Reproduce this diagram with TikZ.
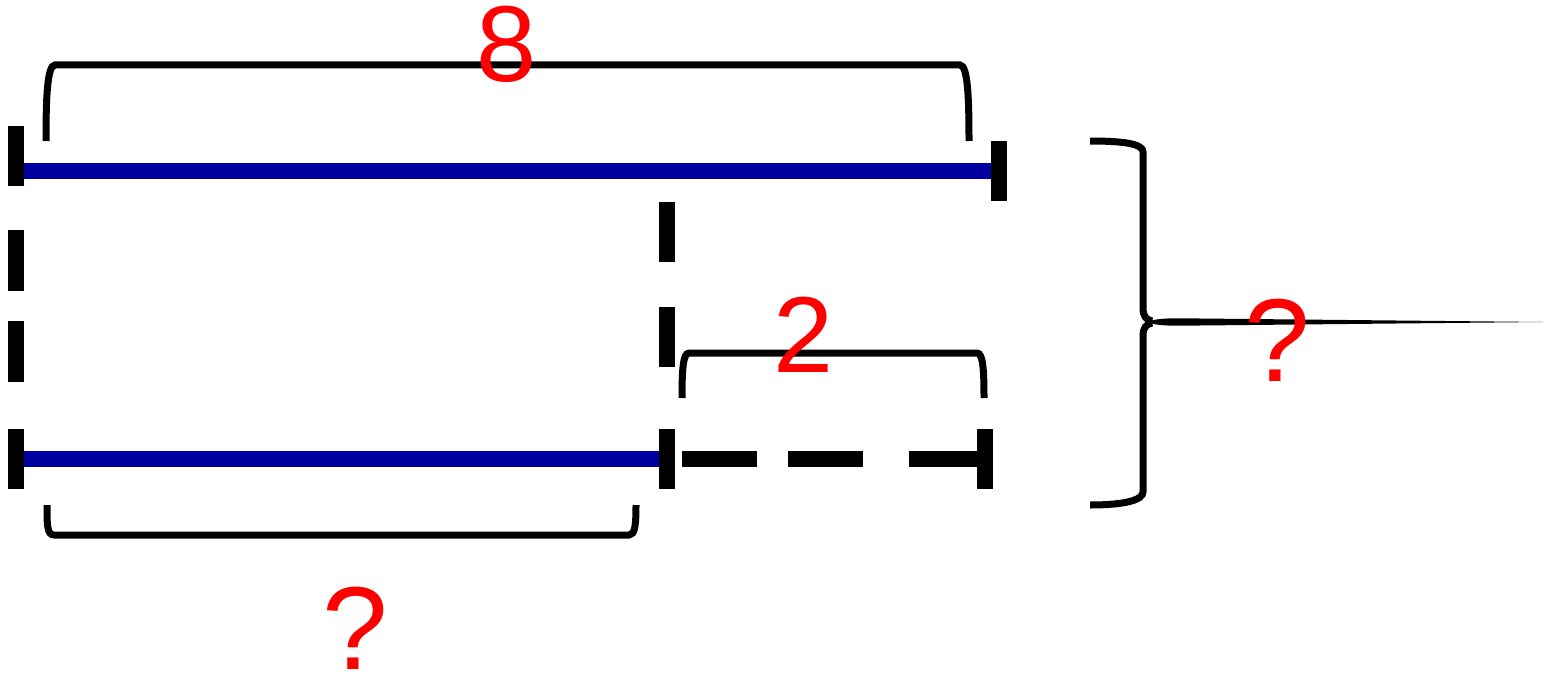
\documentclass[tikz,border=0pt]{standalone}
\usepackage{fontspec}
\setmainfont{Liberation Sans}
\definecolor{segblue}{RGB}{0,0,160}
\tikzset{
  seg/.style={segblue, line width=16pt},
  tickmark/.style={fill=black, minimum width=16pt, minimum height=60pt, inner sep=0pt},
  guide/.style={black, line width=16pt},
  brace/.style={black, line width=7pt},
  numlbl/.style={red, inner sep=0pt, font=\fontsize{108}{108}\selectfont},
  qlbl/.style={red, inner sep=0pt, font=\fontsize{118}{118}\selectfont}
}

\begin{document}
\begin{tikzpicture}[x=1pt, y=-1pt]
\useasboundingbox (0,0) rectangle (1556,677);

% end points of the two bars
\coordinate (topL) at (16,171);
\coordinate (topR) at (999,171);
\coordinate (botL) at (16,459);
\coordinate (botM) at (667,459);
\coordinate (botR) at (985,459);

% blue bars
\draw[seg] (topL) -- (topR);
\draw[seg] (botL) -- (botM);

% ticks
\node[tickmark] (tickTL) at (16,156) {};
\node[tickmark] (tickTR) at (topR) {};
\node[tickmark] (tickBL) at (botL) {};
\node[tickmark] (tickBM) at (botM) {};
\node[tickmark] (tickBR) at (botR) {};

% dashed guides
\draw[guide, dash pattern=on 61pt off 30pt] (16,230) -- (16,382);
\draw[guide, dash pattern=on 60pt off 45pt] (667,202) -- (667,367);
\draw[guide, dash pattern=on 75pt off 31pt on 75pt off 46pt] (682,459) -- (tickBR.west);

% bracket over the top bar
\draw[brace] (46,141) .. controls (46,100) and (47,65) .. (55,65) -- (960,65)
  .. controls (968,65) and (969,100) .. (969,141);
\node[numlbl] (eight) at (507,44) {8};

% bracket over the missing part
\draw[brace] (682,398) .. controls (682,370) and (683,353) .. (689,353) -- (977,353)
  .. controls (983,353) and (984,370) .. (984,398);
\node[numlbl] (two) at (804,335) {2};

% bracket under the bottom bar
\draw[brace] (47,505) .. controls (47,525) and (47,535) .. (54,535) -- (629,535)
  .. controls (635,535) and (636,525) .. (636,505);
\node[qlbl] (qbot) at (355,628) {?};

% big brace on the right
\draw[brace] (1090,141) .. controls (1125,141) and (1143,144) .. (1143,152) -- (1143,308)
  .. controls (1143,316) and (1146,320) .. (1152,321);
\draw[brace] (1152,323) .. controls (1146,324) and (1143,328) .. (1143,336) -- (1143,492)
  .. controls (1143,500) and (1125,505) .. (1090,505);
\fill (1146,322) .. controls (1160,317) and (1180,318.5) .. (1200,318.5) -- (1543,322)
  -- (1200,325.5) .. controls (1180,325.5) and (1160,327) .. (1146,322);
\node[qlbl] (qright) at (1277,340) {?};

\end{tikzpicture}
\end{document}
